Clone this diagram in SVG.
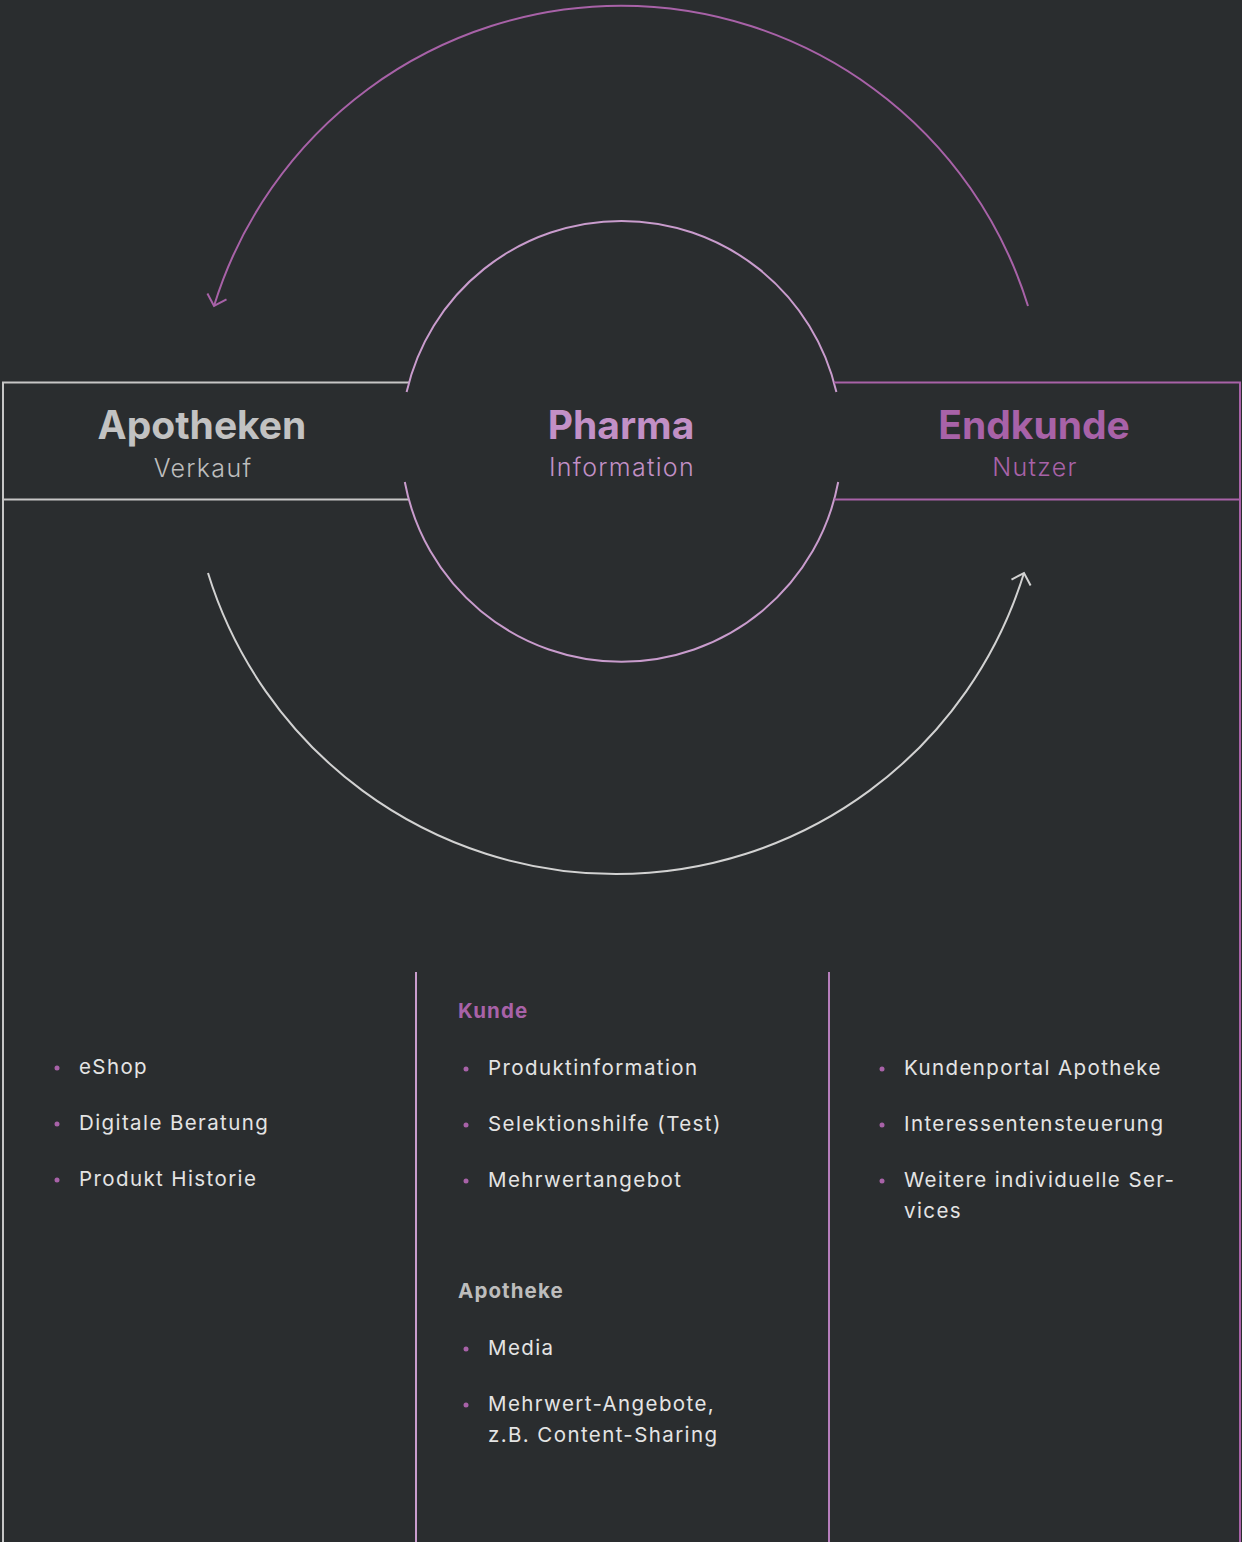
<svg xmlns="http://www.w3.org/2000/svg" width="1242" height="1542" viewBox="0 0 1242 1542">
<style>
.bg{fill:#2a2d2f}
.gray{stroke:#c6c6c6;stroke-width:2;fill:none}
.purp{stroke:#a862a8;stroke-width:2;fill:none}
.lpurp{stroke:#c99ccd;stroke-width:2;fill:none}
.h{font-family:Inter,"Liberation Sans",sans-serif;font-weight:700;font-size:39px;text-anchor:middle}
.s{font-family:Inter,"Liberation Sans",sans-serif;font-weight:300;font-size:25px;text-anchor:middle;letter-spacing:1.3px}
.li{font-family:Inter,"Liberation Sans",sans-serif;font-size:20.5px;fill:#e4e4e4;letter-spacing:1.4px}
.sh{font-family:Inter,"Liberation Sans",sans-serif;font-weight:700;font-size:20.5px;letter-spacing:1.1px}
.dot{fill:#a862a8}
</style>
<defs>
<marker id="arrP" markerUnits="userSpaceOnUse" markerWidth="30" markerHeight="30" refX="0" refY="0" viewBox="-15 -15 30 30" orient="auto" overflow="visible">
<path d="M -10 -10 L 0 0 L -10 10" fill="none" stroke="#a862a8" stroke-width="2"/>
</marker>
<marker id="arrG" markerUnits="userSpaceOnUse" markerWidth="30" markerHeight="30" refX="0" refY="0" viewBox="-15 -15 30 30" orient="auto" overflow="visible">
<path d="M -10 -10 L 0 0 L -10 10" fill="none" stroke="#d2d2d2" stroke-width="2"/>
</marker>
</defs>
<rect class="bg" x="0" y="0" width="1242" height="1542"/>

<g id="connectors">
<path d="M 1028 306 A 426 426 0 0 0 214 306" fill="none" stroke="#a862a8" stroke-width="2" marker-end="url(#arrP)"/>
<path d="M 208 573 A 427 427 0 0 0 1024 573" fill="none" stroke="#d2d2d2" stroke-width="2" marker-end="url(#arrG)"/>
</g>

<g id="apotheken">
<path class="gray" d="M 409 382.5 L 3 382.5 L 3 1542"/>
<path class="gray" d="M 3 499.5 L 408.8 499.5"/>
<text class="h" x="202" y="439" fill="#c2c2c2">Apotheken</text>
<text class="s" x="203" y="477" fill="#bdbdbd">Verkauf</text>
</g>

<g id="pharma">
<path class="lpurp" d="M 406.6 392 A 220.5 220.5 0 0 1 836.4 392"/>
<path class="lpurp" d="M 404.8 482 A 220.5 220.5 0 0 0 838.2 482"/>
<text class="h" x="621" y="439" fill="#c290c6">Pharma</text>
<text class="s" x="622" y="476" fill="#c290c6">Information</text>
</g>

<g id="endkunde">
<path class="purp" d="M 834 382.5 L 1240 382.5 L 1240 1542"/>
<path class="purp" d="M 834.2 499.5 L 1240 499.5"/>
<text class="h" x="1034" y="439" fill="#a862a8">Endkunde</text>
<text class="s" x="1035" y="476" fill="#a862a8">Nutzer</text>
</g>

<g id="list-apotheken">
<circle class="dot" cx="57" cy="1068" r="2.5"/>
<text class="li" x="79" y="1074">eShop</text>
<circle class="dot" cx="57" cy="1124" r="2.5"/>
<text class="li" x="79" y="1130">Digitale Beratung</text>
<circle class="dot" cx="57" cy="1180" r="2.5"/>
<text class="li" x="79" y="1186">Produkt Historie</text>
</g>

<g id="list-pharma">
<line x1="416" y1="972" x2="416" y2="1542" stroke="#c99ccd" stroke-width="2"/>
<line x1="829" y1="972" x2="829" y2="1542" stroke="#b67ebc" stroke-width="2"/>
<text class="sh" x="458" y="1018" fill="#a862a8">Kunde</text>
<circle class="dot" cx="466" cy="1069" r="2.5"/>
<text class="li" x="488" y="1075">Produktinformation</text>
<circle class="dot" cx="466" cy="1125" r="2.5"/>
<text class="li" x="488" y="1131">Selektionshilfe (Test)</text>
<circle class="dot" cx="466" cy="1181" r="2.5"/>
<text class="li" x="488" y="1187">Mehrwertangebot</text>
<text class="sh" x="458" y="1298" fill="#bdbdbd">Apotheke</text>
<circle class="dot" cx="466" cy="1349" r="2.5"/>
<text class="li" x="488" y="1355">Media</text>
<circle class="dot" cx="466" cy="1405" r="2.5"/>
<text class="li" x="488" y="1411">Mehrwert-Angebote,</text>
<text class="li" x="488" y="1442">z.B. Content-Sharing</text>
</g>

<g id="list-endkunde">
<circle class="dot" cx="882" cy="1069" r="2.5"/>
<text class="li" x="904" y="1075">Kundenportal Apotheke</text>
<circle class="dot" cx="882" cy="1125" r="2.5"/>
<text class="li" x="904" y="1131">Interessentensteuerung</text>
<circle class="dot" cx="882" cy="1181" r="2.5"/>
<text class="li" x="904" y="1187">Weitere individuelle Ser-</text>
<text class="li" x="904" y="1218">vices</text>
</g>
</svg>
